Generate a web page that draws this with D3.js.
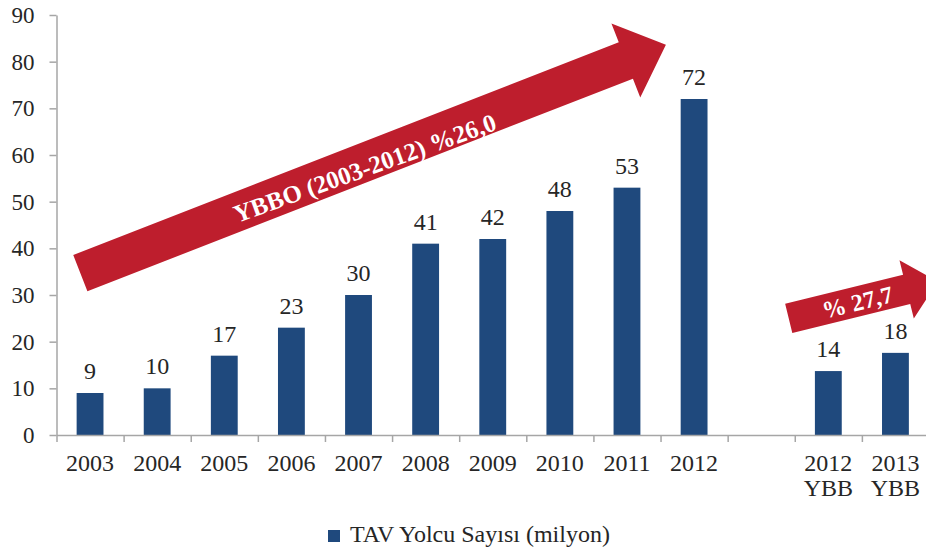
<!DOCTYPE html>
<html>
<head>
<meta charset="utf-8">
<script src="https://cdn.jsdelivr.net/npm/d3@7"></script>
<style>
  body { margin: 0; background: #fff; }
  svg text { font-family: "Liberation Serif", "Times New Roman", Times, serif; fill: #262626; }
  .axis path, .axis line { stroke: #a6a6a6; stroke-width: 1.5; }
  .axis text { font-size: 23px; fill: #262626; font-family: "Liberation Serif", "Times New Roman", Times, serif; }
</style>
</head>
<body>
<div id="chart"></div>
<script>
var width = 926, height = 552;

// categories on the x axis ("" is the empty gap slot)
var categories = ["2003", "2004", "2005", "2006", "2007", "2008", "2009", "2010", "2011", "2012", "", "2012 YBB", "2013 YBB"];
// TAV passenger numbers, million
var passengers = [9, 10, 17, 23, 30, 41, 42, 48, 53, 72, null, 13.7, 17.6];
var valueLabels = ["9", "10", "17", "23", "30", "41", "42", "48", "53", "72", "", "14", "18"];
var yTicks = [0, 10, 20, 30, 40, 50, 60, 70, 80, 90];
var seriesName = "TAV Yolcu Sayısı (milyon)";

// growth arrows: [slot, value] from tail to tip
var growthLabels = ["YBBO (2003-2012) %26,0", "% 27,7"];
var growthFrom = [[0.355, 34.7], [10.91, 25.0]];
var growthTo = [[9.08, 83.6], [13.13, 32.85]];

var blue = "#1f497d", red = "#be1e2d";

var x = d3.scaleBand()
    .domain(categories)
    .range([56.5, 929])
    .paddingInner(0.6)
    .paddingOuter(0.3);

// continuous slot index, for tick marks between categories and arrows
var slot = d3.scaleLinear()
    .domain([0, categories.length])
    .range([56.5, 929]);

var y = d3.scaleLinear()
    .domain([0, 90])
    .range([435, 15]);

var svg = d3.select("#chart").append("svg")
    .attr("width", width)
    .attr("height", height);

svg.append("rect").attr("width", width).attr("height", height).attr("fill", "#fff");

var rows = passengers.map(function(v, i) { return {c: categories[i], v: v, l: valueLabels[i]}; })
    .filter(function(d) { return d.v != null; });

// bars
svg.selectAll(".bar")
    .data(rows)
  .enter().append("rect")
    .attr("class", "bar")
    .attr("x", function(d) { return x(d.c); })
    .attr("width", x.bandwidth())
    .attr("y", function(d) { return y(d.v); })
    .attr("height", function(d) { return y(0) - y(d.v); })
    .attr("fill", blue);

// value labels
svg.selectAll(".vlabel")
    .data(rows)
  .enter().append("text")
    .attr("class", "vlabel")
    .attr("x", function(d) { return x(d.c) + x.bandwidth() / 2; })
    .attr("y", function(d) { return y(d.v) - 14; })
    .attr("text-anchor", "middle")
    .style("font-size", "24px")
    .text(function(d) { return d.l; });

// y axis
svg.append("g")
    .attr("class", "axis")
    .attr("transform", "translate(56.5,0)")
    .call(d3.axisLeft(y).tickValues(yTicks).tickSize(7).tickSizeOuter(0).tickPadding(15));

// x axis: ticks at slot boundaries, no labels
svg.append("g")
    .attr("class", "axis")
    .attr("transform", "translate(0," + y(0) + ")")
    .call(d3.axisBottom(slot).tickValues(d3.range(categories.length + 1)).tickFormat("").tickSize(7).tickSizeOuter(0));

// category labels (two lines for YBB)
var cat = svg.selectAll(".clabel")
    .data(categories)
  .enter().append("text")
    .attr("class", "clabel")
    .attr("text-anchor", "middle")
    .style("font-size", "24px");
cat.each(function(c) {
    var parts = c.split(" ");
    var t = d3.select(this);
    parts.forEach(function(p, j) {
        t.append("tspan")
            .attr("x", x(c) + x.bandwidth() / 2)
            .attr("y", 471 + j * 25)
            .text(p);
    });
});

// growth arrows
var shapes = [
    {shaft: 19.5, headLen: 43, headHalf: 39.7, size: 25, pos: 0.482, off: 14, tilt: 1.5},
    {shaft: 15, headLen: 32, headHalf: 30, size: 24, pos: 0.46, off: 9, tilt: 0}
];
growthLabels.forEach(function(label, i) {
    var s = shapes[i];
    var tx = slot(growthFrom[i][0]), ty = y(growthFrom[i][1]);
    var px = slot(growthTo[i][0]), py = y(growthTo[i][1]);
    var L = Math.hypot(px - tx, py - ty);
    var dx = (px - tx) / L, dy = (py - ty) / L;
    var nx = -dy, ny = dx;
    var bx = px - dx * s.headLen, by = py - dy * s.headLen;
    var pts = [
        [tx - nx * s.shaft, ty - ny * s.shaft],
        [bx - nx * s.shaft, by - ny * s.shaft],
        [bx - nx * s.headHalf, by - ny * s.headHalf],
        [px, py],
        [bx + nx * s.headHalf, by + ny * s.headHalf],
        [bx + nx * s.shaft, by + ny * s.shaft],
        [tx + nx * s.shaft, ty + ny * s.shaft]
    ];
    svg.append("path")
        .attr("d", d3.line()(pts) + "Z")
        .attr("fill", red);
    var angle = Math.atan2(dy, dx) * 180 / Math.PI + s.tilt;
    var cx = tx + dx * L * s.pos + nx * s.off, cy = ty + dy * L * s.pos + ny * s.off;
    svg.append("text")
        .attr("transform", "translate(" + cx + "," + cy + ") rotate(" + angle + ")")
        .attr("text-anchor", "middle")
        .style("font-size", s.size + "px")
        .style("font-weight", "bold")
        .style("fill", "#fff")
        .text(label);
});

// legend
svg.append("rect")
    .attr("x", 328).attr("y", 530)
    .attr("width", 12).attr("height", 12)
    .attr("fill", blue);
svg.append("text")
    .attr("x", 350).attr("y", 542)
    .style("font-size", "24px")
    .text(seriesName);
</script>
</body>
</html>
